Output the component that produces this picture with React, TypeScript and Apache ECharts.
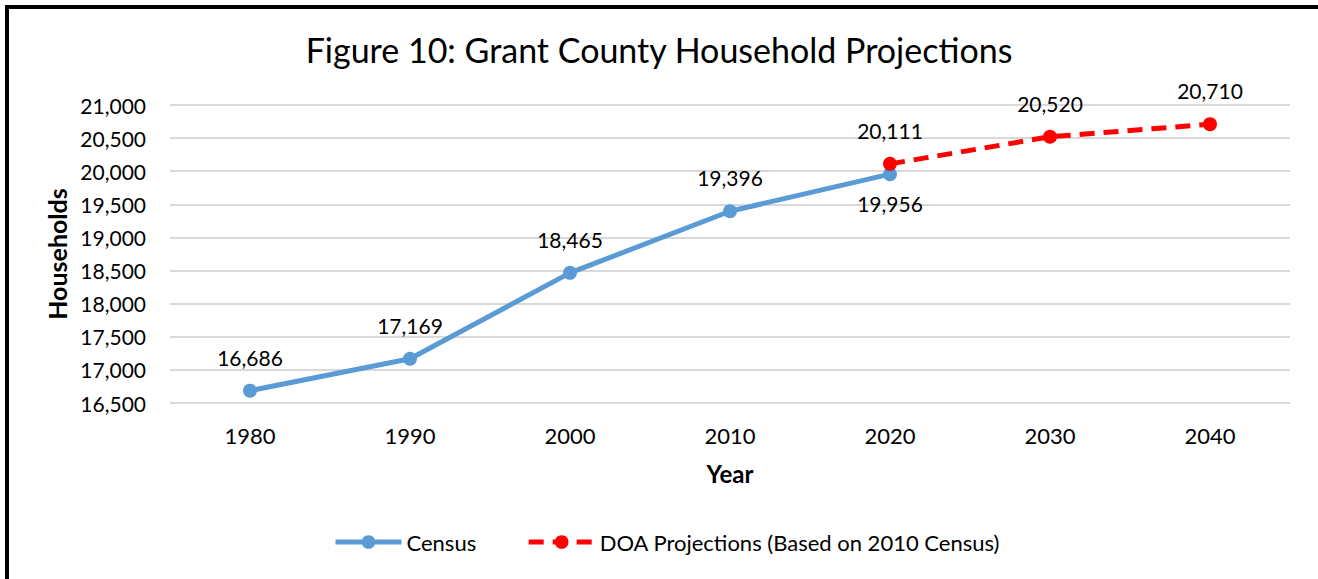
import React, { useEffect, useRef } from "react";
import * as echarts from "echarts";

const years = ["1980", "1990", "2000", "2010", "2020", "2030", "2040"];
const censusValues: (number | null)[] = [16686, 17169, 18465, 19396, 19956, null, null];
const doaValues: (number | null)[] = [null, null, null, null, 20111, 20520, 20710];
const titleText = "Figure 10: Grant County Household Projections";
const censusName = "Census";
const doaName = "DOA Projections (Based on 2010 Census)";

const FONT = "Lato, 'Noto Sans', sans-serif";

export default function App() {
  const ref = useRef<HTMLDivElement>(null);
  useEffect(() => {
    if (!ref.current) return;
    const chart = echarts.init(ref.current, undefined, { renderer: "svg" });
    chart.setOption({
      animation: false,
      backgroundColor: "#ffffff",
      textStyle: { fontFamily: FONT, color: "#000" },
      title: {
        text: titleText,
        left: "center",
        top: 27,
        textStyle: { fontFamily: FONT, fontSize: 34, fontWeight: "normal", color: "#000" },
      },
      graphic: [
        { type: "rect", shape: { x: 5, y: 5, width: 1313, height: 4 }, style: { fill: "#000" }, z: 100 },
        { type: "rect", shape: { x: 5, y: 5, width: 4, height: 574 }, style: { fill: "#000" }, z: 100 },
      ],
      legend: {
        bottom: 21,
        left: 328,
        itemWidth: 66,
        itemHeight: 17,
        itemGap: 50,
        lineStyle: { width: 5 },
        textStyle: { fontFamily: FONT, fontSize: 22, color: "#000" },
        data: [censusName, doaName],
      },
      grid: { left: 170, right: 28, top: 105, height: 298, containLabel: false },
      xAxis: {
        type: "category",
        data: years,
        boundaryGap: true,
        name: "Year",
        nameLocation: "middle",
        nameGap: 58,
        nameTextStyle: { fontFamily: FONT, fontSize: 24, fontWeight: "bold", color: "#000" },
        axisLine: { show: false },
        axisTick: { show: false },
        axisLabel: { fontFamily: FONT, fontSize: 22, color: "#000", margin: 21 },
      },
      yAxis: {
        type: "value",
        min: 16500,
        max: 21000,
        interval: 500,
        name: "Households",
        nameLocation: "middle",
        nameGap: 98,
        nameTextStyle: { fontFamily: FONT, fontSize: 25, fontWeight: "bold", color: "#000" },
        axisLine: { show: false },
        axisTick: { show: false },
        splitLine: { lineStyle: { color: "#d9d9d9", width: 2 } },
        axisLabel: {
          fontFamily: FONT,
          fontSize: 21,
          color: "#000",
          margin: 24,
          formatter: (v: number) => v.toLocaleString("en-US"),
        },
      },
      series: [
        {
          name: censusName,
          type: "line",
          data: censusValues,
          symbol: "circle",
          symbolSize: 14,
          color: "#5b9bd5",
          lineStyle: { color: "#5b9bd5", width: 5 },
          itemStyle: { color: "#5b9bd5" },
          label: {
            show: true,
            position: "top",
            distance: 16,
            fontFamily: FONT,
            fontSize: 21,
            color: "#000",
            formatter: (p: any) => Number(p.value).toLocaleString("en-US"),
          },
          labelLayout: (p: any) => (p.dataIndex === 4 ? { dy: 63 } : {}),
          z: 2,
        },
        {
          name: doaName,
          type: "line",
          data: doaValues,
          symbol: "circle",
          symbolSize: 14,
          color: "#ff0000",
          lineStyle: { color: "#ff0000", width: 5, type: [15, 9] },
          itemStyle: { color: "#ff0000" },
          label: {
            show: true,
            position: "top",
            distance: 16,
            fontFamily: FONT,
            fontSize: 21,
            color: "#000",
            formatter: (p: any) => Number(p.value).toLocaleString("en-US"),
          },
          z: 3,
        },
      ],
    });
    return () => chart.dispose();
  }, []);
  return <div ref={ref} style={{ position: "fixed", left: 0, top: 0, width: 1318, height: 579 }} />;
}
